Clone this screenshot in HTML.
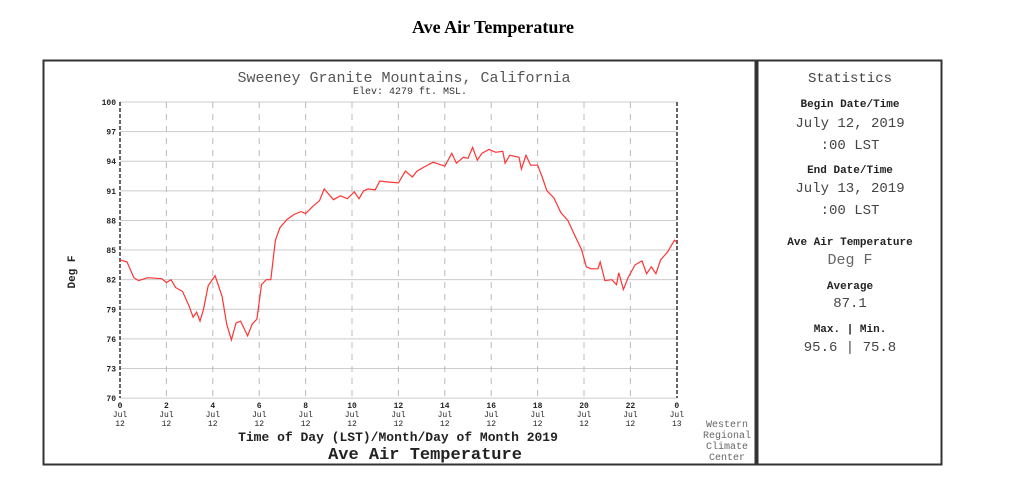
<!DOCTYPE html>
<html><head><meta charset="utf-8"><style>
body{margin:0;background:#fff;width:1024px;height:489px;overflow:hidden}
svg{display:block}
.m{font-family:"Liberation Mono","DejaVu Sans Mono",monospace}
</style></head><body>
<svg id="s" width="1024" height="489" xmlns="http://www.w3.org/2000/svg">
<text x="493" y="33" text-anchor="middle" font-family="Liberation Serif,serif" font-weight="bold" font-size="18">Ave Air Temperature</text>
<rect x="43.5" y="60.5" width="712" height="404" fill="none" stroke="#333" stroke-width="2"/>
<rect x="757.5" y="60.5" width="184" height="404" fill="none" stroke="#333" stroke-width="2"/>
<g id="grid"></g>
<text class="m" x="404" y="82" text-anchor="middle" font-size="15" fill="#555">Sweeney Granite Mountains, California</text>
<text class="m" x="410" y="94" text-anchor="middle" font-size="10" fill="#333">Elev: 4279 ft. MSL.</text>
<text class="m" x="75" y="272" font-size="11" font-weight="bold" fill="#222" transform="rotate(-90 75 272)" text-anchor="middle">Deg F</text>
<text class="m" x="398" y="441" text-anchor="middle" font-size="13" font-weight="bold" fill="#222">Time of Day (LST)/Month/Day of Month 2019</text>
<text class="m" x="425" y="459" text-anchor="middle" font-size="17" font-weight="bold" fill="#222">Ave Air Temperature</text>
<g class="m" font-size="10" fill="#666" text-anchor="middle">
<text x="727" y="427">Western</text><text x="727" y="438">Regional</text><text x="727" y="449">Climate</text><text x="727" y="460">Center</text>
</g>
<g class="m" text-anchor="middle" fill="#222">
<text x="850" y="82" font-size="14" fill="#444">Statistics</text>
<text x="850" y="107" font-size="11" font-weight="bold">Begin Date/Time</text>
<text x="850" y="127" font-size="14" fill="#444">July 12, 2019</text>
<text x="850" y="149" font-size="14" fill="#444">:00 LST</text>
<text x="850" y="173" font-size="11" font-weight="bold">End Date/Time</text>
<text x="850" y="192" font-size="14" fill="#444">July 13, 2019</text>
<text x="850" y="214" font-size="14" fill="#444">:00 LST</text>
<text x="850" y="245" font-size="11" font-weight="bold">Ave Air Temperature</text>
<text x="850" y="264" font-size="15" fill="#666">Deg F</text>
<text x="850" y="289" font-size="11" font-weight="bold">Average</text>
<text x="850" y="307" font-size="14" fill="#444">87.1</text>
<text x="850" y="332" font-size="11" font-weight="bold">Max. | Min.</text>
<text x="850" y="351" font-size="14" fill="#444">95.6 | 75.8</text>
</g>
<polyline id="ln" fill="none" stroke="#f33" stroke-width="1.2"/>
</svg>
<script>
var X=function(h){return 120+h*23.2},Y=function(v){return 102+(100-v)*9.87};
var g=document.getElementById('grid'),ns='http://www.w3.org/2000/svg',h='';
for(var v=70;v<=100;v+=3){var y=Y(v);h+='<line x1="120" x2="677" y1="'+y+'" y2="'+y+'" stroke="#ccc"/>';
h+='<text x="116" y="'+(y+3)+'" text-anchor="end" font-family="Liberation Mono,monospace" font-size="8" font-weight="bold" fill="#222">'+v+'</text>';}
for(var t=0;t<=24;t+=2){var x=X(t);
if(t>0&&t<24)h+='<line x1="'+x+'" x2="'+x+'" y1="102" y2="398" stroke="#bbb" stroke-dasharray="6,6"/>';
h+='<text x="'+x+'" y="408" text-anchor="middle" font-family="Liberation Mono,monospace" font-size="8" font-weight="bold" fill="#222">'+(t%24)+'</text>';
h+='<text x="'+x+'" y="417" text-anchor="middle" font-family="Liberation Mono,monospace" font-size="8" fill="#222">Jul</text>';
h+='<text x="'+x+'" y="426" text-anchor="middle" font-family="Liberation Mono,monospace" font-size="8" fill="#222">'+(t==24?13:12)+'</text>';}
h+='<line x1="120" x2="120" y1="102" y2="398" stroke="#333" stroke-width="1.5" stroke-dasharray="4,2"/>';
h+='<line x1="677" x2="677" y1="102" y2="398" stroke="#333" stroke-width="1.5" stroke-dasharray="4,2"/>';
g.innerHTML=h;
var d=[0,84,.3,83.8,.6,82.2,.8,81.9,1.2,82.2,1.8,82.1,2,81.7,2.2,82,2.4,81.2,2.7,80.8,3,79.2,3.15,78.2,3.3,78.7,3.45,77.8,3.6,79,3.8,81.4,4.1,82.4,4.4,80.3,4.6,77.5,4.8,75.9,5,77.6,5.2,77.8,5.5,76.3,5.7,77.5,5.9,78,6.1,81.5,6.3,82,6.5,82,6.7,86,6.9,87.3,7.2,88.1,7.5,88.6,7.8,88.9,8,88.7,8.3,89.4,8.6,90,8.8,91.2,9.2,90.1,9.5,90.5,9.8,90.2,10.1,90.9,10.3,90.2,10.5,91,10.7,91.2,11,91.1,11.2,92,11.5,91.9,12,91.8,12.3,93,12.6,92.4,12.8,93,13.1,93.4,13.5,93.9,14,93.5,14.3,94.8,14.5,93.8,14.8,94.4,15,94.3,15.2,95.4,15.4,94.1,15.6,94.8,15.9,95.2,16.2,94.9,16.5,95,16.6,93.8,16.8,94.6,17.2,94.4,17.3,93.2,17.5,94.6,17.7,93.6,18,93.6,18.2,92.4,18.4,91,18.7,90.3,19,88.8,19.3,88,19.6,86.5,19.9,85,20.1,83.3,20.3,83.1,20.6,83.1,20.7,83.8,20.9,81.9,21.2,82,21.4,81.5,21.5,82.7,21.7,81,21.9,82.2,22.2,83.5,22.5,83.9,22.7,82.6,22.9,83.3,23.1,82.6,23.3,84,23.6,84.8,23.9,86,24,85.8];
var p=[];for(var i=0;i<d.length;i+=2)p.push(X(d[i]).toFixed(1)+','+Y(d[i+1]).toFixed(1));
document.getElementById('ln').setAttribute('points',p.join(' '));
</script>
</body></html>
